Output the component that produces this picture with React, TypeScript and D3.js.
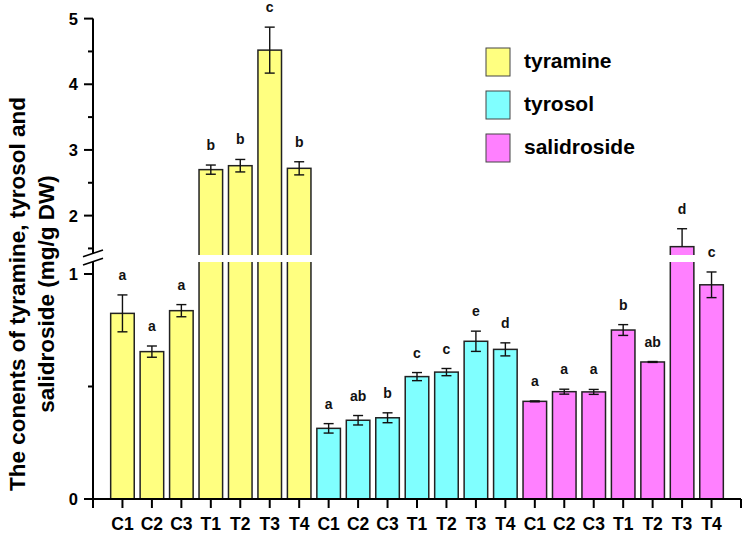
import React from "react";
import * as d3 from "d3";

const categories = ["C1", "C2", "C3", "T1", "T2", "T3", "T4"];
const seriesNames = ["tyramine", "tyrosol", "salidroside"];
const seriesColors = ["#FFFF80", "#80FFFF", "#FF80FF"];

const tyramine = [0.825, 0.655, 0.837, 2.7, 2.76, 4.52, 2.72];
const tyramineErr = [0.082, 0.025, 0.027, 0.07, 0.095, 0.35, 0.1];
const tyramineSig = ["a", "a", "a", "b", "b", "c", "b"];

const tyrosol = [0.314, 0.35, 0.361, 0.544, 0.564, 0.701, 0.665];
const tyrosolErr = [0.021, 0.021, 0.022, 0.018, 0.016, 0.045, 0.029];
const tyrosolSig = ["a", "ab", "b", "c", "c", "e", "d"];

const salidroside = [0.434, 0.477, 0.476, 0.751, 0.609, 1.527, 0.952];
const salidrosideErr = [0.002, 0.011, 0.011, 0.024, 0.002, 0.273, 0.057];
const salidrosideSig = ["a", "a", "a", "b", "ab", "d", "c"];

const lowerTicks = [0, 1];
const lowerMinor = [0.5];
const upperTicks = [2, 3, 4, 5];
const upperMinor = [1.5, 2.5, 3.5, 4.5];

const FONT = "'Liberation Sans', Arial, Helvetica, sans-serif";

export default function App() {
  const W = 752, H = 538;
  const axisX = 93, axisRight = 741, baseY = 499;
  const gapTop = 255, gapBottom = 262;

  const allVals = [tyramine, tyrosol, salidroside];
  const allErr = [tyramineErr, tyrosolErr, salidrosideErr];
  const allSig = [tyramineSig, tyrosolSig, salidrosideSig];

  const bars: { i: number; s: number; cat: string; v: number; e: number; sig: string }[] = [];
  allVals.forEach((arr, s) =>
    arr.forEach((v, j) =>
      bars.push({ i: s * categories.length + j, s, cat: categories[j], v, e: allErr[s][j], sig: allSig[s][j] })
    )
  );

  const x = d3.scaleLinear().domain([0, bars.length + 1]).range([axisX, axisRight]);
  const lower = d3.scaleLinear().domain([0, 1]).range([baseY, 274]);
  const lowerMax = lower.invert(gapBottom);
  const upper = d3.scaleLinear().domain([1.4, 5]).range([gapTop, 18.6]);
  const y = (v: number) => (v <= lowerMax ? lower(v) : upper(v));

  const step = x(1) - x(0);
  const bw = step * 0.8;
  const capW = 10;

  return (
    <svg width={W} height={H} style={{ position: "absolute", left: 0, top: 0, background: "#fff" }} fontFamily={FONT}>
      {/* bars */}
      {bars.map((b) => {
        const cx = x(b.i + 1);
        const top = y(b.v);
        return (
          <rect key={"bar" + b.i} x={cx - bw / 2} y={top} width={bw} height={baseY - top}
            fill={seriesColors[b.s]} stroke="#222" strokeWidth={1.5} />
        );
      })}
      {/* white gap on broken bars */}
      {bars.filter((b) => b.v > lowerMax).map((b) => {
        const cx = x(b.i + 1);
        return <rect key={"gap" + b.i} x={cx - bw / 2 - 2} y={gapTop} width={bw + 4} height={gapBottom - gapTop} fill="#fff" />;
      })}
      {/* error bars */}
      {bars.map((b) => {
        const cx = x(b.i + 1);
        const hi = b.v + b.e;
        const lo = b.v - b.e;
        const yHi = y(hi);
        const inUpper = b.v > lowerMax;
        const loVisible = inUpper ? lo >= 1.4 : true;
        const yLo = loVisible ? y(lo) : y(b.v);
        return (
          <g key={"err" + b.i} stroke="#111" strokeWidth={1.4}>
            <line x1={cx} x2={cx} y1={yHi} y2={yLo} />
            <line x1={cx - capW / 2} x2={cx + capW / 2} y1={yHi} y2={yHi} />
            {loVisible && <line x1={cx - capW / 2} x2={cx + capW / 2} y1={yLo} y2={yLo} />}
          </g>
        );
      })}
      {/* significance letters */}
      {bars.map((b) => (
        <text key={"sig" + b.i} x={x(b.i + 1)} y={y(b.v + b.e) - 15} textAnchor="middle"
          fontSize={14} fontWeight="bold" fill="#111">{b.sig}</text>
      ))}
      {/* x axis */}
      <line x1={axisX} x2={axisRight} y1={baseY} y2={baseY} stroke="#000" strokeWidth={2} />
      {[0, bars.length + 1].map((t) => (
        <line key={"xe" + t} x1={x(t)} x2={x(t)} y1={baseY} y2={baseY + 9} stroke="#000" strokeWidth={2} />
      ))}
      {bars.map((b) => (
        <g key={"xt" + b.i}>
          <line x1={x(b.i + 1)} x2={x(b.i + 1)} y1={baseY} y2={baseY + 9} stroke="#000" strokeWidth={2} />
          <text x={x(b.i + 1)} y={529.5} textAnchor="middle" fontSize={17.5} fontWeight="bold" fill="#000">{b.cat}</text>
        </g>
      ))}
      {/* y axis */}
      <line x1={axisX} x2={axisX} y1={baseY + 1} y2={262} stroke="#000" strokeWidth={2} />
      <line x1={axisX} x2={axisX} y1={254} y2={upper(5)} stroke="#000" strokeWidth={2} />
      {lowerTicks.map((t) => (
        <g key={"lt" + t}>
          <line x1={axisX - 9} x2={axisX} y1={lower(t)} y2={lower(t)} stroke="#000" strokeWidth={2} />
          <text x={78} y={lower(t) + 6} textAnchor="end" fontSize={16.5} fontWeight="bold">{t}</text>
        </g>
      ))}
      {lowerMinor.map((t) => (
        <line key={"lm" + t} x1={axisX - 5} x2={axisX} y1={lower(t)} y2={lower(t)} stroke="#000" strokeWidth={2} />
      ))}
      {upperTicks.map((t) => (
        <g key={"ut" + t}>
          <line x1={axisX - 9} x2={axisX} y1={upper(t)} y2={upper(t)} stroke="#000" strokeWidth={2} />
          <text x={78} y={upper(t) + 6} textAnchor="end" fontSize={16.5} fontWeight="bold">{t}</text>
        </g>
      ))}
      {upperMinor.map((t) => (
        <line key={"um" + t} x1={axisX - 5} x2={axisX} y1={upper(t)} y2={upper(t)} stroke="#000" strokeWidth={2} />
      ))}
      {/* break marks */}
      <rect x={axisX - 3} y={254} width={6} height={8} fill="#fff" />
      <line x1={83} y1={256.7} x2={103} y2={250} stroke="#000" strokeWidth={1.6} />
      <line x1={83} y1={265} x2={103} y2={258.3} stroke="#000" strokeWidth={1.6} />
      {/* y title */}
      <text transform="translate(25,294) rotate(-90)" textAnchor="middle" fontSize={22.5} fontWeight="bold" fill="#000">
        The conents of tyramine, tyrosol and
      </text>
      <text transform="translate(54,294) rotate(-90)" textAnchor="middle" fontSize={22.5} fontWeight="bold" fill="#000">
        salidroside (mg/g DW)
      </text>
      {/* legend */}
      {seriesNames.map((n, k) => {
        const ly = 48 + k * 43;
        return (
          <g key={"lg" + n}>
            <rect x={486} y={ly} width={24} height={28} fill={seriesColors[k]} stroke="#444" strokeWidth={1} />
            <text x={524} y={ly + 20} fontSize={21} fontWeight="bold" fill="#000">{n}</text>
          </g>
        );
      })}
    </svg>
  );
}
